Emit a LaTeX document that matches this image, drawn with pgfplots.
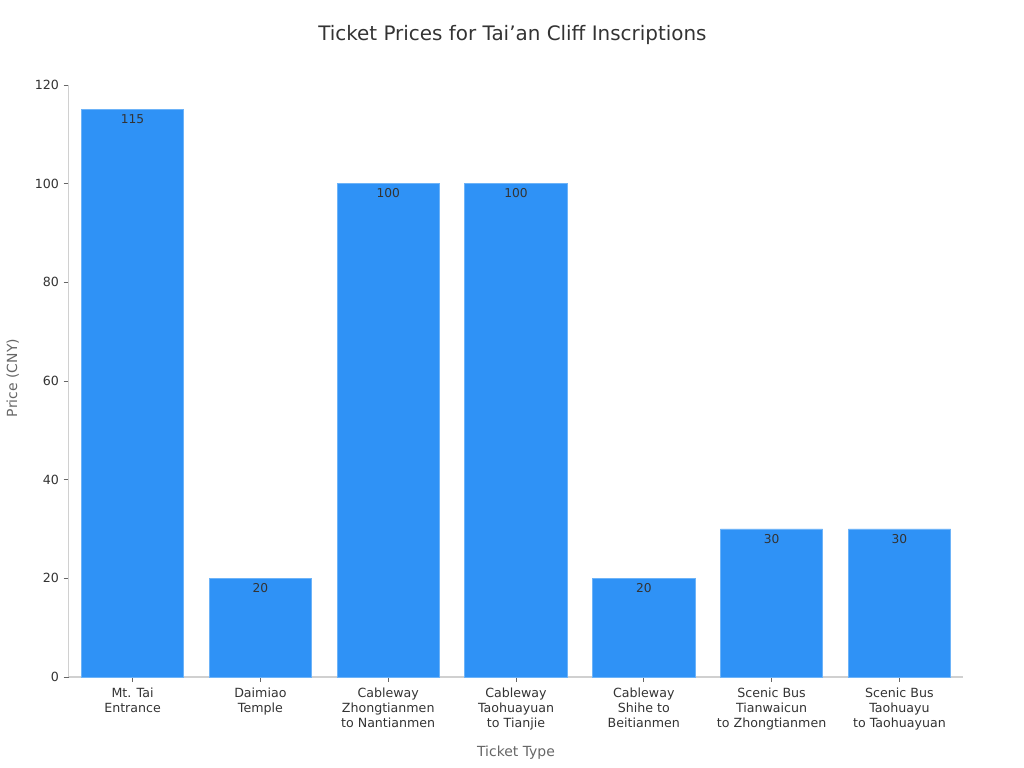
\documentclass[border=0pt]{standalone}
\usepackage{pgfplots}
\pgfplotsset{compat=1.18}
\usepackage{fontspec}
\setmainfont{DejaVu Sans}
\definecolor{barblue}{HTML}{2F92F6}
\definecolor{baredge}{HTML}{6DB3F8}
\definecolor{txtdark}{HTML}{333333}
\definecolor{txtgray}{HTML}{666666}
\definecolor{axgray}{HTML}{D0D0D0}
\begin{document}
\begin{tikzpicture}
\useasboundingbox (0,0) rectangle (768bp,576bp);
\begin{axis}[
    at={(51.5bp,68.25bp)}, anchor=south west,
    scale only axis,
    width=671bp, height=444bp,
    ybar, bar width=0.8,
    xmin=-0.5, xmax=6.5,
    ymin=0, ymax=120,
    ytick={0,20,40,60,80,100,120},
    xtick=data,
    xticklabels={{Mt. Tai\\Entrance},{Daimiao\\Temple},{Cableway\\Zhongtianmen\\to Nantianmen},{Cableway\\Taohuayuan\\to Tianjie},{Cableway\\Shihe to\\Beitianmen},{Scenic Bus\\Tianwaicun\\to Zhongtianmen},{Scenic Bus\\Taohuayu\\to Taohuayuan}},
    xticklabel style={align=center, font=\fontsize{9.5}{11.5}\selectfont, text=txtdark, yshift=-0.7bp},
    yticklabel style={font=\fontsize{9.5}{11.5}\selectfont, text=txtdark},
    /pgf/number format/assume math mode=true,
    axis x line*=bottom, axis y line*=left,
    axis line style={draw=axgray, line width=0.8pt, -},
    tick style={draw=txtgray, line width=0.6pt},
    tick align=outside, major tick length=3.75bp,
    nodes near coords,
    nodes near coords style={anchor=north, font=\fontsize{9.2}{11}\selectfont, text=txtdark, inner sep=3.5bp},
    clip=false,
]
\addplot[fill=barblue, draw=baredge, line width=0.6pt] coordinates {
    (0,115) (1,20) (2,100) (3,100) (4,20) (5,30) (6,30)
};
\node[font=\fontsize{15}{18}\selectfont, text=txtdark] at (rel axis cs:0.496,1.085) {Ticket Prices for Tai’an Cliff Inscriptions};
\node[font=\fontsize{10.5}{12}\selectfont, text=txtgray] at (rel axis cs:0.50,-0.127) {Ticket Type};
\node[font=\fontsize{10.5}{12}\selectfont, text=txtgray, rotate=90] at (rel axis cs:-0.0626,0.505) {Price (CNY)};
\end{axis}
\end{tikzpicture}
\end{document}
